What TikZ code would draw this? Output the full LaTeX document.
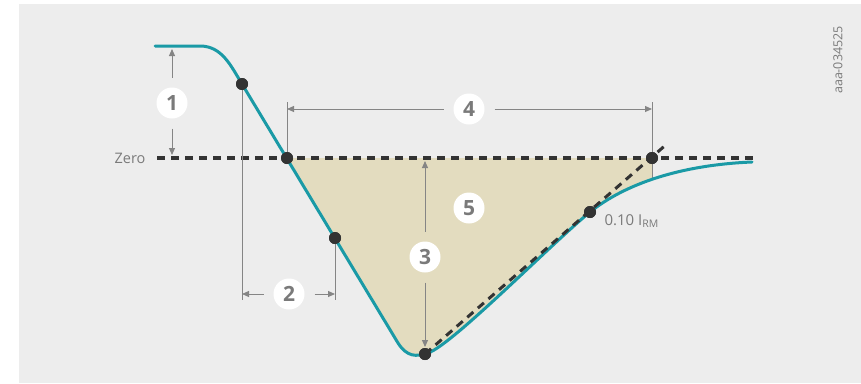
\documentclass[tikz,border=0pt]{standalone}
\usepackage{fontspec}
\setmainfont{Open Sans}
\usetikzlibrary{arrows.meta}
\definecolor{bgc}{HTML}{EDEDED}
\definecolor{beige}{HTML}{E3DCBF}
\definecolor{teal}{HTML}{1A9AA6}
\definecolor{dark}{HTML}{333333}
\definecolor{dimc}{HTML}{858585}
\definecolor{txt}{HTML}{7A7A7A}
\tikzset{
  dim/.style={draw=dimc, line width=1pt},
  tip/.style={-{Triangle[length=7pt,width=6pt]}},
  ext/.style={draw=dimc, line width=1pt},
  lbl/.style={circle, fill=white, minimum size=31pt, inner sep=0pt, outer sep=10pt,
    font=\fontsize{21}{21}\selectfont\bfseries, text=txt},
  dot/.style={circle, fill=dark, minimum size=12pt, inner sep=0pt},
  curve/.style={draw=teal, line width=3pt, line cap=round},
  zeroline/.style={draw=dark, line width=3.5pt, dash pattern=on 8pt off 6pt},
  tanline/.style={draw=dark, line width=3pt, dash pattern=on 8pt off 6pt}
}
\begin{document}
\begin{tikzpicture}[x=1pt,y=-1pt]
\useasboundingbox (0,0) rectangle (861,383);
\fill[bgc] (19,4) rectangle (861,383);
% fill region
\begin{scope}
  \clip (287,158) rectangle (652,383);
  \fill[beige] (242,84) -- (398,343) .. controls (407,357) and (416,357) .. (428,353)
     .. controls (452,345) and (550,245) .. (590,212)
     .. controls (625,184) and (680,165) .. (752,162) -- (752,158) -- (242,158) -- cycle;
\end{scope}
% coordinates
\coordinate (cs) at (155,46);
\coordinate (z0) at (157,158);
\coordinate (z1) at (753,158);
\coordinate (bt) at (425,354);
\coordinate (te) at (668,143);
\coordinate (e2a) at (242,300);
\coordinate (e2b) at (335,300);
\coordinate (e4a) at (287,102);
\coordinate (e4b) at (652,102);
\coordinate (e4c) at (652,178);
% zero line
\draw[zeroline] (z0) -- (z1);
% dots
\node[dot] (d1) at (242,84) {};
\node[dot] (d2) at (287,158) {};
\node[dot] (d3) at (335,238) {};
\node[dot] (d4) at (425,354) {};
\node[dot] (d5) at (590,212) {};
\node[dot] (d6) at (652,158) {};
% extension lines
\draw[ext] (d1.center) -- (e2a);
\draw[ext] (d3.center) -- (e2b);
\draw[ext] (e4a) -- (d2.center);
\draw[ext] (e4b) -- (e4c);
% curve
\draw[curve] (cs) -- (200,46) .. controls (222,46) and (231,66) .. (242,84)
   -- (398,343) .. controls (407,357) and (416,357) .. (428,353)
   .. controls (452,345) and (550,245) .. (590,212)
   .. controls (625,184) and (680,165) .. (752,162);
% tangent
\draw[tanline] (bt) -- (te);
\node[dot] at (d1) {};
\node[dot] at (d2) {};
\node[dot] at (d3) {};
\node[dot] at (d4) {};
\node[dot] at (d5) {};
\node[dot] at (d6) {};
% labels
\node[lbl] (L1) at (172,103) {1};
\node[lbl] (L2) at (289,294) {2};
\node[lbl] (L3) at (425,257) {3};
\node[lbl] (L4) at (469,109) {4};
\node[lbl] (L5) at (469,208) {5};
% dimension 1
\coordinate (a1t) at (172,49);
\coordinate (a1b) at (172,155);
\draw[dim,tip] (L1) -- (a1t);
\draw[dim,tip] (L1) -- (a1b);
% dimension 2
\coordinate (a2l) at (242,294);
\coordinate (a2r) at (335,294);
\draw[dim,tip] (L2) -- (a2l);
\draw[dim,tip] (L2) -- (a2r);
% dimension 3
\coordinate (a3t) at (425,161);
\coordinate (a3b) at (425,347);
\draw[dim,tip] (L3) -- (a3t);
\draw[dim,tip] (L3) -- (a3b);
% dimension 4
\coordinate (a4l) at (287,109);
\coordinate (a4r) at (652,109);
\draw[dim,tip] (L4) -- (a4l);
\draw[dim,tip] (L4) -- (a4r);
% texts
\node[anchor=east, text=txt, font=\fontsize{14.5}{14.5}\selectfont] (zt) at (149,158) {Zero};
\node[anchor=west, text=txt, font=\fontsize{15}{15}\selectfont] (it) at (601,221) {0.10 I\raisebox{-2.5pt}{\fontsize{10.5}{10.5}\selectfont RM}};
\node[rotate=90, text=txt, font=\fontsize{12.5}{12.5}\selectfont] (id) at (838,60) {aaa-034525};
\end{tikzpicture}
\end{document}
